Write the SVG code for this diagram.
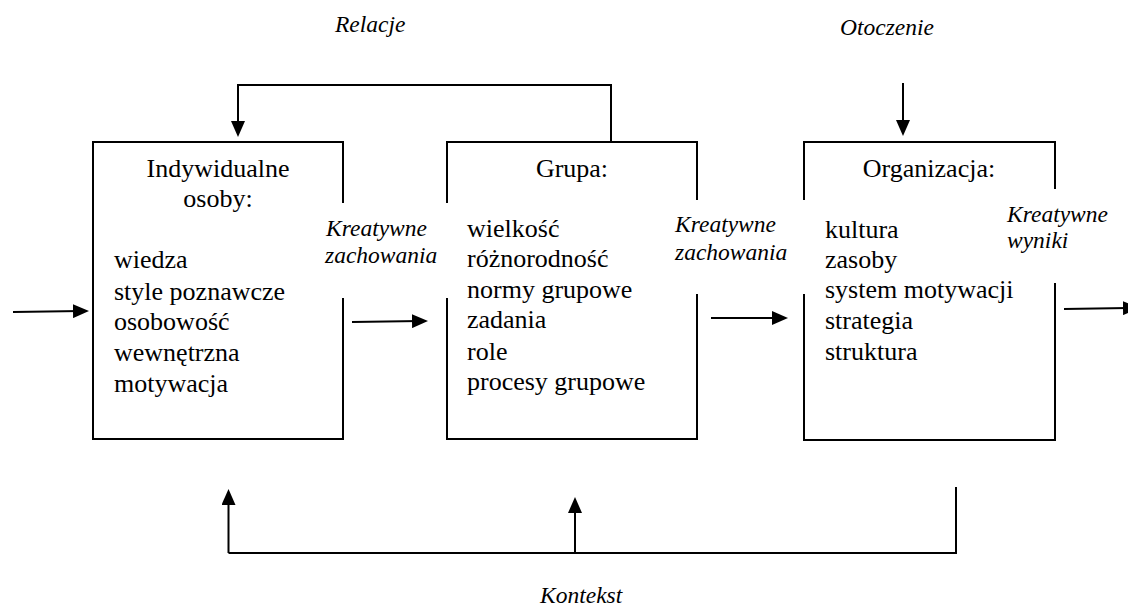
<svg xmlns="http://www.w3.org/2000/svg" width="1128" height="608" viewBox="0 0 1128 608">
  <style>
    .box { fill: #ffffff; stroke: #000000; stroke-width: 2; }
    .gap { fill: #ffffff; stroke: none; }
    .ln { fill: none; stroke: #000000; stroke-width: 2; }
    .arr { fill: none; stroke: #000000; stroke-width: 2; marker-end: url(#ah); }
    .t { font-family: "Liberation Serif", "Times New Roman", serif; font-size: 26px; fill: #000000; }
    .c { text-anchor: middle; }
    .it { font-family: "Liberation Serif", "Times New Roman", serif; font-size: 23.5px; font-style: italic; fill: #000000; }
  </style>
  <defs>
    <marker id="ah" markerUnits="userSpaceOnUse" markerWidth="16" markerHeight="14" refX="8" refY="7" orient="auto">
      <path d="M0,0 L16,7 L0,14 Z" fill="#000000"/>
    </marker>
  </defs>

  <g id="box-individual">
    <rect class="box" x="93" y="142" width="250" height="297"/>
  </g>
  <g id="box-group">
    <rect class="box" x="447" y="142" width="250" height="297"/>
  </g>
  <g id="box-organization">
    <rect class="box" x="804" y="142" width="251" height="298"/>
  </g>

  <g id="label-gaps">
    <rect class="gap" x="336" y="203" width="118" height="95"/>
    <rect class="gap" x="690" y="200" width="121" height="94"/>
    <rect class="gap" x="1048" y="189" width="14" height="94"/>
  </g>

  <g id="connectors">
    <polyline class="ln" points="237,85 611,85 611,142"/>
    <line class="arr" x1="238" y1="85" x2="238" y2="129"/>
    <line class="arr" x1="903" y1="83" x2="903" y2="128"/>
    <line class="arr" x1="13" y1="312" x2="81" y2="311"/>
    <line class="arr" x1="352" y1="322" x2="420" y2="321"/>
    <line class="arr" x1="711" y1="318" x2="780" y2="318"/>
    <line class="arr" x1="1064" y1="309" x2="1131" y2="308"/>
    <polyline class="ln" points="956,487 956,553 228.5,553"/>
    <line class="arr" x1="228.5" y1="553" x2="228.5" y2="497"/>
    <line class="arr" x1="575" y1="553" x2="575" y2="505"/>
  </g>

  <g id="text-individual">
    <text class="t c" x="218" y="177">Indywidualne</text>
    <text class="t c" x="218" y="207">osoby:</text>
    <text class="t" x="114" y="268">wiedza</text>
    <text class="t" x="114" y="300">style poznawcze</text>
    <text class="t" x="114" y="330">osobowość</text>
    <text class="t" x="114" y="361">wewnętrzna</text>
    <text class="t" x="114" y="392">motywacja</text>
  </g>
  <g id="text-group">
    <text class="t c" x="572" y="177">Grupa:</text>
    <text class="t" x="467" y="237">wielkość</text>
    <text class="t" x="467" y="267">różnorodność</text>
    <text class="t" x="467" y="298">normy grupowe</text>
    <text class="t" x="467" y="328">zadania</text>
    <text class="t" x="467" y="360">role</text>
    <text class="t" x="467" y="390">procesy grupowe</text>
  </g>
  <g id="text-organization">
    <text class="t c" x="929" y="177">Organizacja:</text>
    <text class="t" x="825" y="238">kultura</text>
    <text class="t" x="825" y="268">zasoby</text>
    <text class="t" x="825" y="298">system motywacji</text>
    <text class="t" x="825" y="329">strategia</text>
    <text class="t" x="825" y="360">struktura</text>
  </g>

  <g id="labels">
    <text class="it" x="326" y="236">Kreatywne</text>
    <text class="it" x="325" y="263">zachowania</text>
    <text class="it" x="675" y="232">Kreatywne</text>
    <text class="it" x="675" y="260">zachowania</text>
    <text class="it" x="1007" y="222">Kreatywne</text>
    <text class="it" x="1007" y="248">wyniki</text>
    <text class="it" x="335" y="32">Relacje</text>
    <text class="it" x="840" y="35">Otoczenie</text>
    <text class="it" x="540" y="603">Kontekst</text>
  </g>
</svg>
